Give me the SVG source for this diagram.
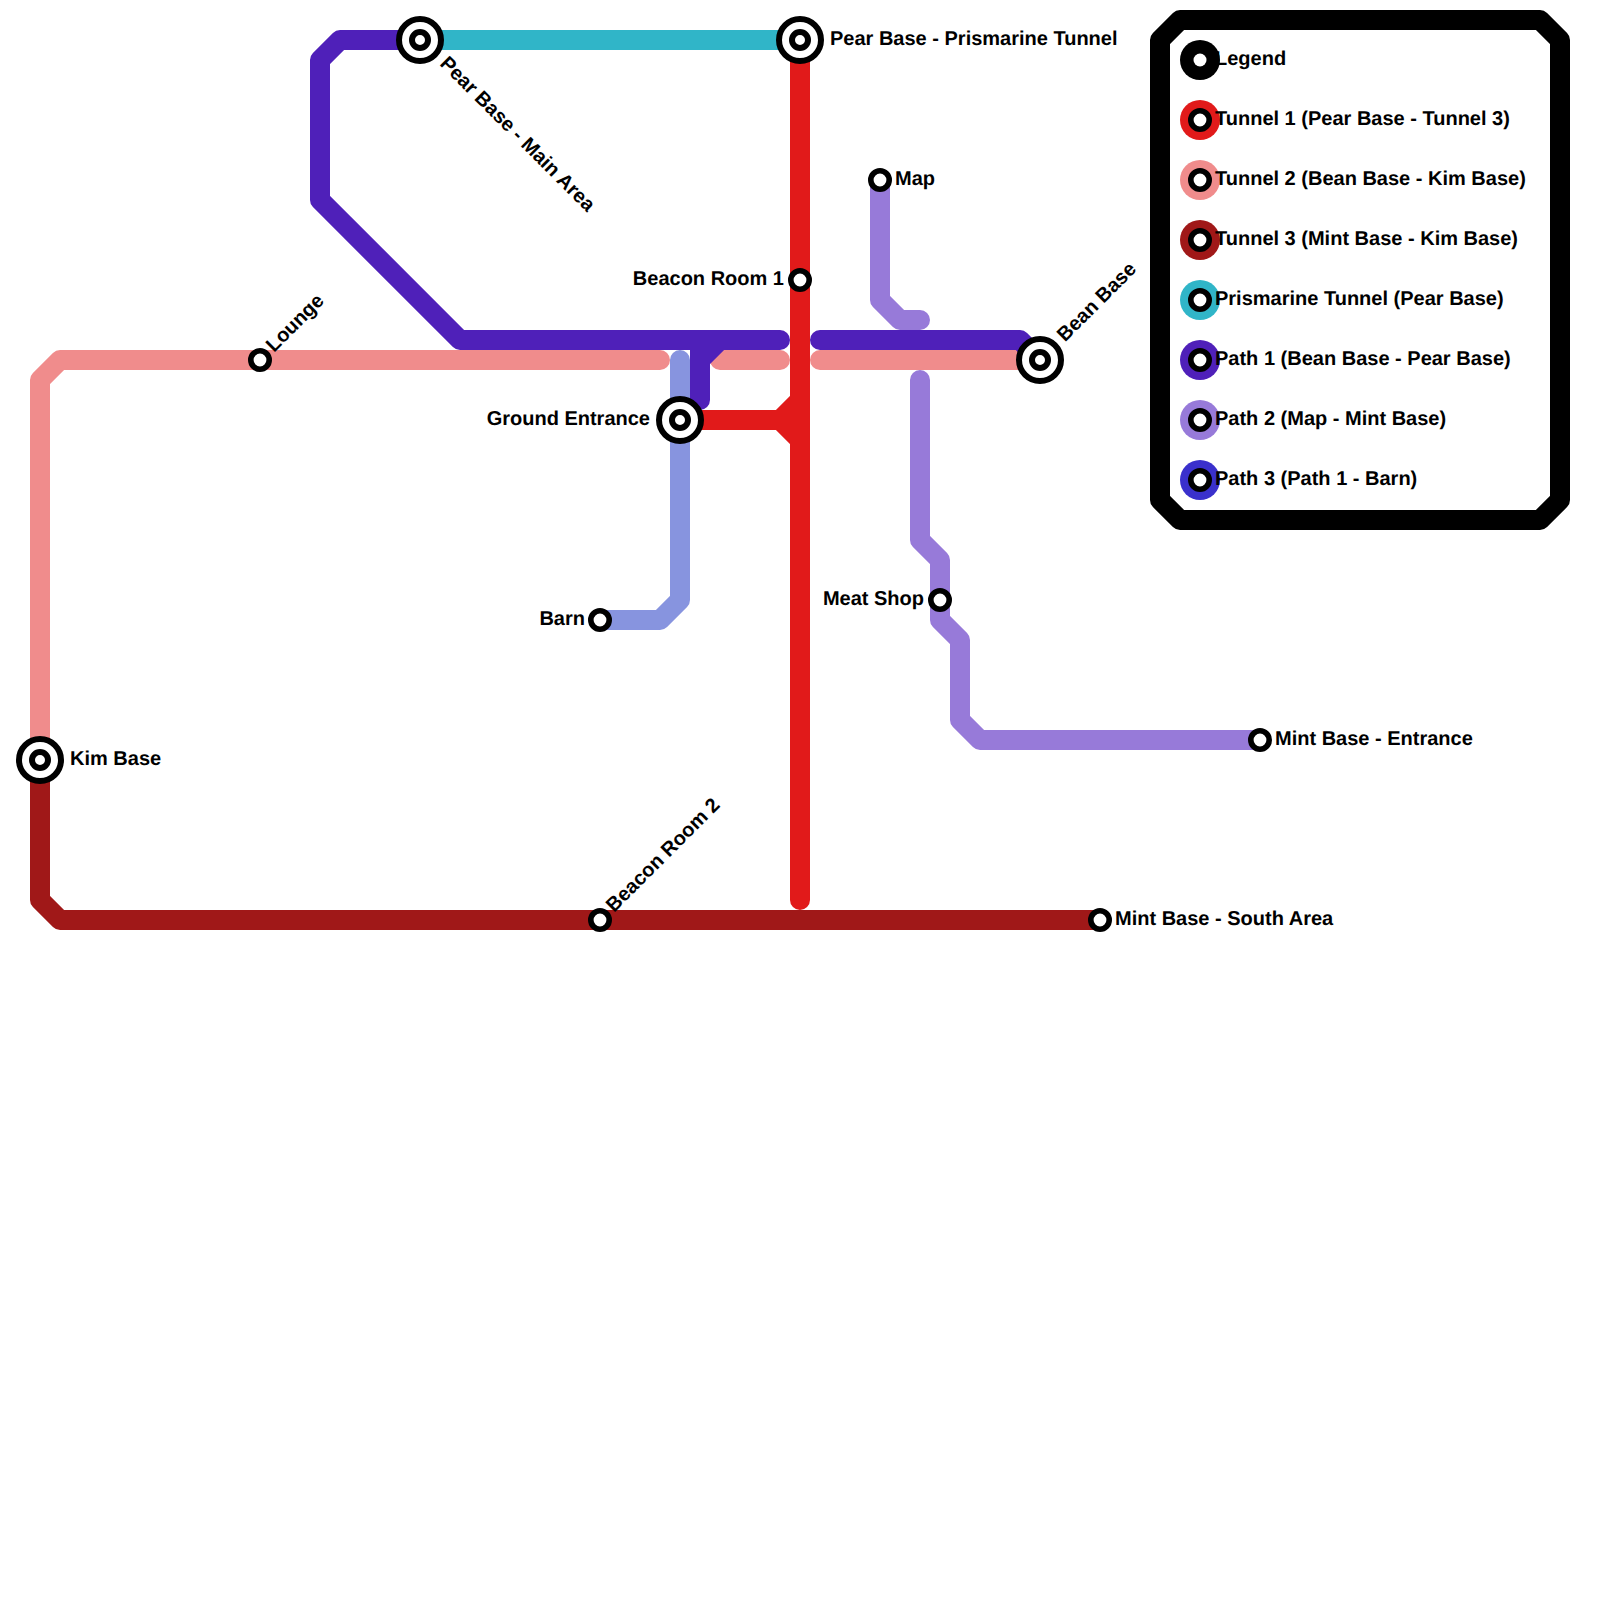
<svg xmlns="http://www.w3.org/2000/svg" width="1600" height="1600" viewBox="0 0 1600 1600">
<style>
.l{fill:none;stroke-width:20;stroke-linecap:round;stroke-linejoin:round}
text{font-family:"Liberation Sans",Arial,sans-serif;font-weight:700;font-size:20px;fill:#000;text-rendering:geometricPrecision}
.o{fill:#fff;stroke:#000;stroke-width:6}
.s{fill:#fff;stroke:#000;stroke-width:5.6}
.e{text-anchor:end}
</style>
<rect width="1600" height="1600" fill="#fff"/>
<g id="connectors">
<path class="l" stroke="#f08c8c" d="M40 760V380L60 360H660M720 360H780M820 360H1040"/>
<path class="l" stroke="#a01818" d="M40 760V900L60 920H1100"/>
<path class="l" stroke="#30b5c8" d="M420 40H800"/>
<path class="l" stroke="#8794df" d="M680 360V600L660 620H600"/>
<path class="l" stroke="#4f20b9" d="M420 40H340L320 60V200L460 340H780M820 340H1020L1040 360M700 400V340M700 360L720 340"/>
<path class="l" stroke="#977ad9" d="M880 180V300L900 320H920M920 380V540L940 560V620L960 640V720L980 740H1260"/>
<path class="l" stroke="#e11a1a" d="M800 40V900M680 420H780L800 400M780 420L800 440"/>
</g>
<g id="legend-box"><path fill="none" stroke="#000" stroke-width="20" stroke-linejoin="round" d="M1180 20H1540L1560 40V500L1540 520H1180L1160 500V40Z"/></g>
<g id="pear-main"><circle class="o" cx="420" cy="40" r="21"/><circle class="o" cx="420" cy="40" r="8"/><text transform="translate(439 64.5) rotate(45)">Pear Base - Main Area</text></g>
<g id="pear-tunnel"><circle class="o" cx="800" cy="40" r="21"/><circle class="o" cx="800" cy="40" r="8"/><text x="830" y="45">Pear Base - Prismarine Tunnel</text></g>
<g id="ground"><circle class="o" cx="680" cy="420" r="21"/><circle class="o" cx="680" cy="420" r="8"/><text class="e" x="650" y="425">Ground Entrance</text></g>
<g id="bean"><circle class="o" cx="1040" cy="360" r="21"/><circle class="o" cx="1040" cy="360" r="8"/><text transform="translate(1065 342.5) rotate(-45)">Bean Base</text></g>
<g id="kim"><circle class="o" cx="40" cy="760" r="21"/><circle class="o" cx="40" cy="760" r="8"/><text x="70" y="765">Kim Base</text></g>
<g id="lounge"><circle class="s" cx="260" cy="360" r="9.2"/><text transform="translate(274 353) rotate(-45)">Lounge</text></g>
<g id="beacon1"><circle class="s" cx="800" cy="280" r="9.2"/><text class="e" x="784" y="285">Beacon Room 1</text></g>
<g id="map"><circle class="s" cx="880" cy="180" r="9.2"/><text x="895" y="185">Map</text></g>
<g id="meat"><circle class="s" cx="940" cy="600" r="9.2"/><text class="e" x="924" y="605">Meat Shop</text></g>
<g id="mint-entrance"><circle class="s" cx="1260" cy="740" r="9.2"/><text x="1275" y="745">Mint Base - Entrance</text></g>
<g id="mint-south"><circle class="s" cx="1100" cy="920" r="9.2"/><text x="1115" y="925">Mint Base - South Area</text></g>
<g id="beacon2"><circle class="s" cx="600" cy="920" r="9.2"/><text transform="translate(614 913) rotate(-45)">Beacon Room 2</text></g>
<g id="barn"><circle class="s" cx="600" cy="620" r="9.2"/><text class="e" x="585" y="625">Barn</text></g>
<g id="legend-0"><circle cx="1200" cy="60" r="20" fill="#000"/><circle cx="1200" cy="60" r="6.5" fill="#fff"/><text x="1215" y="65">Legend</text></g>
<g id="legend-1"><circle cx="1200" cy="120" r="20" fill="#e11a1a"/><circle class="s" cx="1200" cy="120" r="9.2"/><text x="1215" y="125">Tunnel 1 (Pear Base - Tunnel 3)</text></g>
<g id="legend-2"><circle cx="1200" cy="180" r="20" fill="#f08c8c"/><circle class="s" cx="1200" cy="180" r="9.2"/><text x="1215" y="185">Tunnel 2 (Bean Base - Kim Base)</text></g>
<g id="legend-3"><circle cx="1200" cy="240" r="20" fill="#a01818"/><circle class="s" cx="1200" cy="240" r="9.2"/><text x="1215" y="245">Tunnel 3 (Mint Base - Kim Base)</text></g>
<g id="legend-4"><circle cx="1200" cy="300" r="20" fill="#30b5c8"/><circle class="s" cx="1200" cy="300" r="9.2"/><text x="1215" y="305">Prismarine Tunnel (Pear Base)</text></g>
<g id="legend-5"><circle cx="1200" cy="360" r="20" fill="#4f20b9"/><circle class="s" cx="1200" cy="360" r="9.2"/><text x="1215" y="365">Path 1 (Bean Base - Pear Base)</text></g>
<g id="legend-6"><circle cx="1200" cy="420" r="20" fill="#977ad9"/><circle class="s" cx="1200" cy="420" r="9.2"/><text x="1215" y="425">Path 2 (Map - Mint Base)</text></g>
<g id="legend-7"><circle cx="1200" cy="480" r="20" fill="#3a30cc"/><circle class="s" cx="1200" cy="480" r="9.2"/><text x="1215" y="485">Path 3 (Path 1 - Barn)</text></g>
</svg>
